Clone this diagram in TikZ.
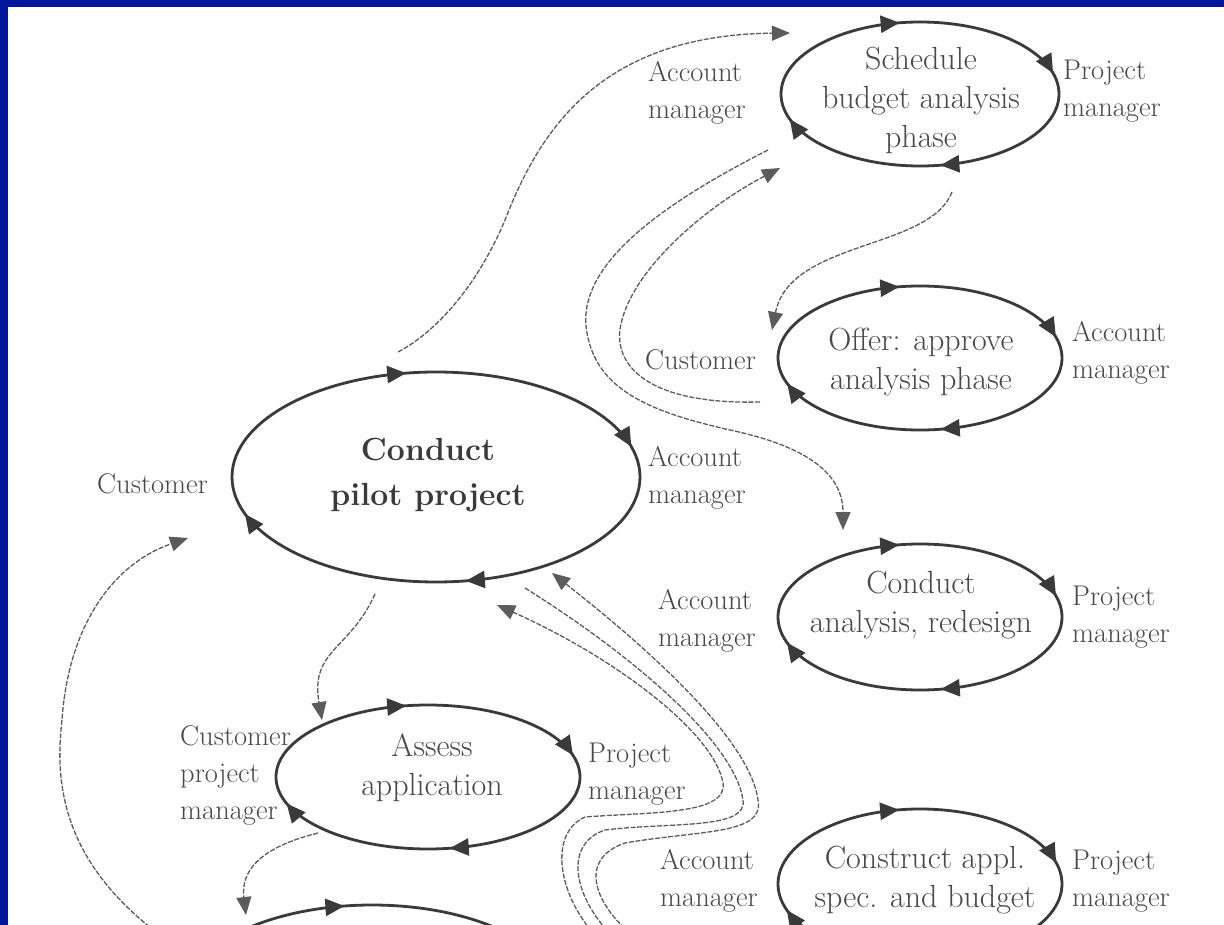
\documentclass[tikz,border=0pt]{standalone}
\usepackage{fontspec}
\usetikzlibrary{arrows.meta,decorations.markings}
\definecolor{slideblue}{RGB}{0,22,155}
\definecolor{ink}{RGB}{58,58,58}
\definecolor{txt}{RGB}{72,72,72}
\definecolor{wire}{RGB}{92,92,92}
\tikzset{
  ringtip/.tip={Triangle[length=19pt,width=17pt]},
  ring/.style={draw=ink, color=ink, line width=2.8pt,
    decoration={markings,
      mark=at position 0.22 with {\arrow{ringtip}},
      mark=at position 0.46 with {\arrow{ringtip}},
      mark=at position 0.72 with {\arrow{ringtip}},
      mark=at position 0.968 with {\arrow{ringtip}}},
    postaction=decorate},
  flow/.style={draw=wire, line width=1.3pt, dash pattern=on 5pt off 1.6pt},
  tip/.style={-{Triangle[length=18pt,width=15pt]}},
  task/.style={text=txt, align=center, inner sep=0pt, font=\fontsize{32}{39}\selectfont},
  bigtask/.style={text=ink, align=center, inner sep=0pt, font=\bfseries\fontsize{32}{45}\selectfont},
  role/.style={text=txt, align=left, anchor=west, inner sep=0pt, font=\fontsize{28.5}{37}\selectfont},
}
\begin{document}
\begin{tikzpicture}[x=1pt,y=-1pt]
\useasboundingbox (0,0) rectangle (1224,925);
\fill[white] (0,0) rectangle (1224,925);
\clip (0,0) rectangle (1224,925);

% activity texts
\node[task] (sched) at (921,100) {Schedule\\budget analysis\\phase};
\node[task] (offer) at (921,362) {Offer: approve\\analysis phase};
\node[bigtask] (pilot) at (428,475) {Conduct\\pilot project};
\node[task] (anal) at (921,605) {Conduct\\analysis, redesign};
\node[task] (assess) at (432,768) {Assess\\application};
\node[task] (constr) at (925,880) {Construct appl.\\spec. and budget};

% activity loops
\path[ring] (sched.center) ++(-1,-6) ellipse [x radius=139, y radius=72];
\path[ring] (offer.center) ++(-1,-4) ellipse [x radius=142, y radius=72];
\path[ring] (pilot.center) ++(8,2) ellipse [x radius=204, y radius=105];
\path[ring] (anal.center) ++(-1,12) ellipse [x radius=142, y radius=73];
\path[ring] (assess.center) ++(-4,9) ellipse [x radius=152, y radius=72];
\path[ring] (constr.center) ++(-5,4) ellipse [x radius=142, y radius=75];
\path[ring] (372,1000) ellipse [x radius=190, y radius=95];

% roles
\node[role] (sA) at (648,93) {Account\\manager};
\node[role] (sP) at (1063,91) {Project\\manager};
\node[role] (oC) at (645,360) {Customer};
\node[role] (oA) at (1072,353) {Account\\manager};
\node[role] (pC) at (97,484) {Customer};
\node[role] (pA) at (648,478) {Account\\manager};
\node[role] (aA) at (658,621) {Account\\manager};
\node[role] (aP) at (1072,617) {Project\\manager};
\node[role] (asC) at (180,775) {Customer\\project\\manager};
\node[role] (asP) at (588,774) {Project\\manager};
\node[role] (cA) at (660,881) {Account\\manager};
\node[role] (cP) at (1072,881) {Project\\manager};

% connector ends
\coordinate (a0) at (398,352);  \coordinate (a1) at (790,33);
\coordinate (b0) at (768,150);  \coordinate (b1) at (843,530);
\coordinate (c0) at (760,402);  \coordinate (c1) at (780,168);
\coordinate (d0) at (952,192);  \coordinate (d1) at (772,330);
\coordinate (e0) at (375,594);  \coordinate (e1) at (322,720);
\coordinate (f0) at (318,833);  \coordinate (f1) at (246,915);
\coordinate (g0) at (160,935);  \coordinate (g1) at (188,538);
\coordinate (h1a) at (645,945); \coordinate (h1b) at (552,573);
\coordinate (h2a) at (622,945); \coordinate (h2b) at (525,588);
\coordinate (h3a) at (605,945); \coordinate (h3b) at (497,605);

% hand-overs
\draw[flow,tip] (a0) .. controls (440,330) and (480,280) .. (505,220)
  .. controls (540,130) and (600,35) .. (a1);
\draw[flow,tip] (b0) .. controls (650,210) and (575,270) .. (587,333)
  .. controls (597,390) and (650,412) .. (730,430)
  .. controls (800,445) and (843,470) .. (b1);
\draw[flow,tip] (c0) .. controls (640,405) and (610,360) .. (622,320)
  .. controls (635,270) and (700,210) .. (c1);
\draw[flow,tip] (d0) .. controls (930,250) and (790,240) .. (d1);
\draw[flow,tip] (e0) .. controls (350,650) and (310,650) .. (e1);
\draw[flow,tip] (f0) .. controls (270,845) and (240,865) .. (f1);
\draw[flow,tip] (g0) .. controls (60,860) and (55,780) .. (62,720)
  .. controls (68,630) and (110,565) .. (g1);
\draw[flow,tip] (h1a) .. controls (595,910) and (575,860) .. (625,843)
  .. controls (700,830) and (765,835) .. (758,800)
  .. controls (750,740) and (650,650) .. (h1b);
\draw[flow] (h2b) .. controls (640,660) and (735,745) .. (743,800)
  .. controls (748,830) and (670,822) .. (605,830)
  .. controls (560,845) and (575,905) .. (h2a);
\draw[flow,tip] (h3a) .. controls (560,905) and (545,835) .. (585,817)
  .. controls (650,812) and (728,815) .. (723,783)
  .. controls (715,735) and (620,660) .. (h3b);

% slide frame
\fill[slideblue] (0,0) rectangle (1224,7);
\fill[slideblue] (0,0) rectangle (8,925);
\end{tikzpicture}
\end{document}
